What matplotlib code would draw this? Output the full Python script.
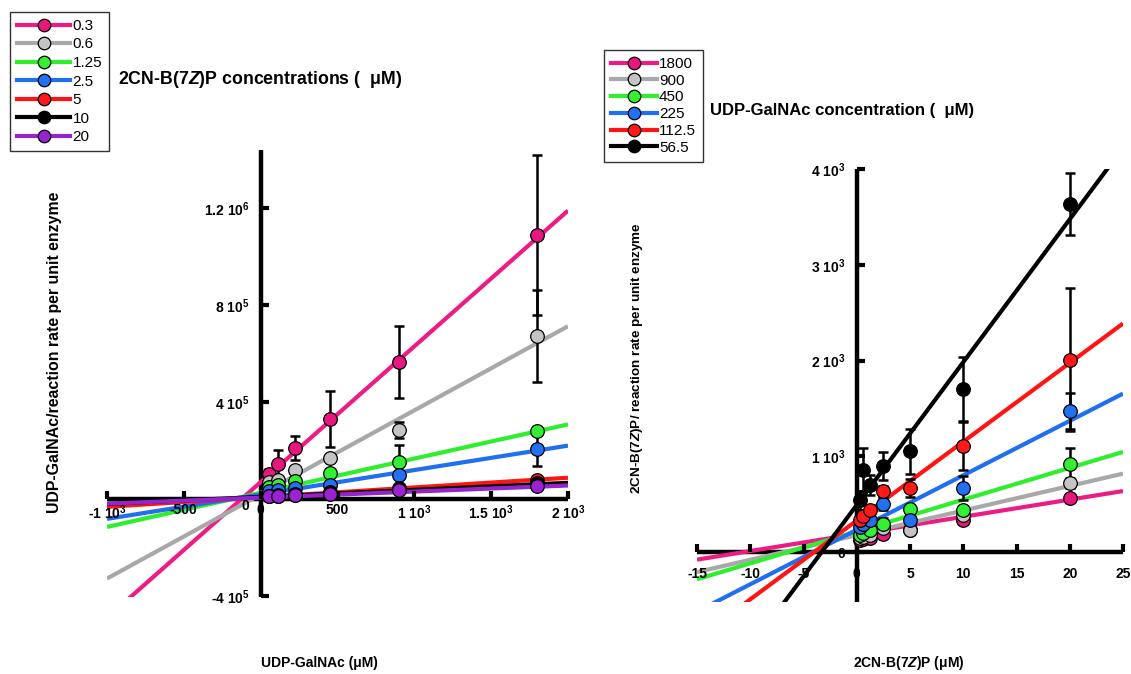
import matplotlib
matplotlib.use("Agg")
import numpy as np
import matplotlib.pyplot as plt
from matplotlib.lines import Line2D

plt.rcParams['font.family'] = ['Liberation Sans', 'DejaVu Sans']
plt.rcParams['mathtext.fontset'] = 'custom'
plt.rcParams['mathtext.rm'] = 'Liberation Sans:bold'
plt.rcParams['mathtext.bf'] = 'Liberation Sans:bold'
plt.rcParams['mathtext.it'] = 'Liberation Sans:italic:bold'
plt.rcParams['mathtext.default'] = 'rm'
plt.rcParams['axes.axisbelow'] = False

# ---------------- data: UDP-GalNAc varied (left panel) ----------------
udp_conc = [56.5, 112.5, 225, 450, 900, 1800]
inhib_labels = ['0.3', '0.6', '1.25', '2.5', '5', '10', '20']

left_y = [
    [1.04e5, 1.46e5, 2.12e5, 3.30e5, 5.66e5, 1.089e6],   # 0.3
    [0.70e5, 0.78e5, 1.18e5, 1.70e5, 2.85e5, 6.72e5],    # 0.6
    [0.50e5, 0.58e5, 0.74e5, 1.06e5, 1.54e5, 2.80e5],    # 1.25
    [0.32e5, 0.38e5, 0.47e5, 0.56e5, 0.99e5, 2.05e5],    # 2.5
    [0.14e5, 0.15e5, 0.19e5, 0.28e5, 0.44e5, 0.80e5],    # 5
    [0.11e5, 0.12e5, 0.16e5, 0.24e5, 0.40e5, 0.68e5],    # 10
    [0.12e5, 0.12e5, 0.15e5, 0.20e5, 0.37e5, 0.55e5],    # 20
]
left_err = [
    [0.2e5, 0.55e5, 0.5e5, 1.17e5, 1.5e5, 3.3e5],
    [0.1e5, 0.1e5, 0.1e5, 0.1e5, 0.34e5, 1.9e5],
    [0.05e5, 0.05e5, 0.05e5, 0.05e5, 0.7e5, 0.15e5],
    [0.05e5, 0.05e5, 0.05e5, 0.05e5, 0.1e5, 0.7e5],
    [0.02e5, 0.02e5, 0.02e5, 0.03e5, 0.05e5, 0.08e5],
    [0.02e5, 0.02e5, 0.02e5, 0.03e5, 0.05e5, 0.08e5],
    [0.02e5, 0.02e5, 0.02e5, 0.03e5, 0.05e5, 0.08e5],
]
# linear fits (slope, intercept)
left_slope = [560, 347, 141, 100.7, 40, 29, 25]
left_icpt = [7.0e4, 1.9e4, 2.6e4, 1.9e4, 0.8e4, 0.9e4, 0.6e4]

# ---------------- data: 2CN-B(7Z)P varied (right panel) ----------------
inhib_conc = [0.3, 0.6, 1.25, 2.5, 5, 10, 20]
udp_labels = ['1800', '900', '450', '225', '112.5', '56.5']

right_y = [
    [130, 140, 150, 190, 225, 331, 568],        # 1800
    [150, 160, 175, 250, 233, 383, 721],        # 900
    [180, 200, 230, 292, 446, 435, 923],        # 450
    [260, 290, 330, 500, 338, 669, 1470],       # 225
    [330, 380, 435, 634, 669, 1104, 2010],      # 112.5
    [540, 860, 700, 898, 1052, 1703, 3633],     # 56.5
]
right_err = [
    [20, 20, 20, 20, 30, 40, 40],
    [20, 20, 20, 30, 30, 40, 50],
    [20, 20, 30, 60, 40, 40, 165],
    [30, 30, 40, 60, 60, 130, 190],
    [40, 60, 60, 60, 90, 250, 745],
    [100, 225, 100, 150, 235, 335, 325],
]
right_slope = [17.9, 25.7, 33.25, 56.9, 82.3, 149.2]
right_icpt = [189, 176, 214, 232, 329, 491]

# ---------------- styling ----------------
left_line_colors = ['#EC1C84', '#A8A8A8', '#2EEE2E', '#1F6FEF', '#FF1414', '#000000', '#9424CC']
left_face_colors = ['#E8177F', '#C4C4C4', '#33F033', '#2370F0', '#FF1A1A', '#000000', '#9A22D0']
right_line_colors = ['#EC1C84', '#A8A8A8', '#2EEE2E', '#1F6FEF', '#FF1414', '#000000']
right_face_colors = ['#E8177F', '#C4C4C4', '#33F033', '#2370F0', '#FF1A1A', '#000000']

W, H = 1131, 674
fig = plt.figure(figsize=(W / 100, H / 100), dpi=100)


def px_axes(x0, y0, x1, y1):
    return fig.add_axes([x0 / W, 1 - y1 / H, (x1 - x0) / W, (y1 - y0) / H])


def style_axes(ax, xpad, ypad):
    for s in ('top', 'right'):
        ax.spines[s].set_visible(False)
    ax.spines['left'].set_position(('data', 0))
    ax.spines['bottom'].set_position(('data', 0))
    for s in ('left', 'bottom'):
        ax.spines[s].set_linewidth(3.2)
        ax.spines[s].set_zorder(1)
        ax.spines[s].set_capstyle('butt')
    ax.tick_params(axis='both', direction='in', length=6, width=3,
                   labelsize=10)
    ax.tick_params(axis='x', pad=xpad)
    ax.tick_params(axis='y', pad=ypad)
    for lab in ax.get_xticklabels() + ax.get_yticklabels():
        lab.set_fontweight('bold')
    ax.patch.set_visible(False)


def draw_series(ax, x, ys, errs, slopes, icpts, lcols, fcols, xr):
    xr = np.array(xr, dtype=float)
    for i, (m, b) in enumerate(zip(slopes, icpts)):
        ax.plot(xr, m * xr + b, color=lcols[i], lw=3, zorder=2,
                solid_capstyle='butt')
    for y, e in zip(ys, errs):
        ax.errorbar(x, y, yerr=e, fmt='none', ecolor='black',
                    elinewidth=1.8, capsize=3.5, capthick=1.8, zorder=3)
    for i, y in enumerate(ys):
        ax.plot(x, y, 'o', ms=9.8, mfc=fcols[i], mec='black', mew=0.9,
                zorder=4 + 0.01 * i)


# ---------------- left panel ----------------
axL = px_axes(107, 150, 568, 597)
axL.set_xlim(-1000, 2000)
axL.set_ylim(-4.04e5, 1.44e6)
draw_series(axL, udp_conc, left_y, left_err, left_slope, left_icpt,
            left_line_colors, left_face_colors, [-1000, 2000])
axL.set_xticks([-1000, -500, 0, 500, 1000, 1500, 2000],
               [r'-1 $10^{3}$', '-500', '0', '500', r'1 $10^{3}$',
                r'1.5 $10^{3}$', r'2 $10^{3}$'])
axL.set_yticks([-4e5, 0, 4e5, 8e5, 1.2e6],
               [r'-4 $10^{5}$', '0', r'4 $10^{5}$', r'8 $10^{5}$',
                r'1.2 $10^{6}$'])
style_axes(axL, xpad=3, ypad=8)
axL.get_yticklabels()[1].set_va('top')

# ---------------- right panel ----------------
axR = px_axes(697, 169, 1123, 602)
axR.set_xlim(-15, 25)
axR.set_ylim(-522, 4000)
draw_series(axR, inhib_conc, right_y, right_err, right_slope, right_icpt,
            right_line_colors, right_face_colors, [-15, 25])
axR.set_xticks([-15, -10, -5, 0, 5, 10, 15, 20, 25],
               ['-15', '-10', '-5', '0', '5', '10', '15', '20', '25'])
axR.set_yticks([0, 1000, 2000, 3000, 4000],
               ['0', r'1 $10^{3}$', r'2 $10^{3}$', r'3 $10^{3}$',
                r'4 $10^{3}$'])
style_axes(axR, xpad=11, ypad=8)

# ---------------- axis titles ----------------
fig.text(319 / W, 1 - 663 / H, 'UDP-GalNAc (μM)', ha='center', va='center',
         fontsize=10, fontweight='bold')
fig.text(55 / W, 1 - 352 / H, 'UDP-GalNAc/reaction rate per unit enzyme',
         ha='center', va='center', rotation=90, fontsize=11.4, fontweight='bold')
fig.text(909 / W, 1 - 663 / H, r'2CN-B(7$\mathit{Z}$)P (μM)', ha='center',
         va='center', fontsize=10, fontweight='bold')
fig.text(637 / W, 1 - 358 / H, r'2CN-B(7$\mathit{Z}$)P/ reaction rate per unit enzyme',
         ha='center', va='center', rotation=90, fontsize=9.7, fontweight='bold')

# ---------------- legends ----------------
def make_legend(labels, lcols, fcols, x0, y0, spacing, hlen):
    handles = [Line2D([], [], color=lc, lw=3, marker='o', ms=9, mfc=fc,
                      mec='black', mew=0.9) for lc, fc in zip(lcols, fcols)]
    leg = fig.legend(handles, labels, loc='upper left',
                     bbox_to_anchor=(x0 / W, 1 - y0 / H),
                     bbox_transform=fig.transFigure, borderaxespad=0,
                     frameon=True, fancybox=False, fontsize=11,
                     handlelength=hlen, handletextpad=0.15,
                     labelspacing=spacing, borderpad=0.45)
    leg.get_frame().set_edgecolor('black')
    leg.get_frame().set_linewidth(1.0)
    return leg


make_legend(inhib_labels, left_line_colors, left_face_colors, 10, 12, 0.3, 3.5)
fig.text(118 / W, 1 - 80 / H, r'2CN-B(7$\mathit{Z}$)P concentrations (  μM)',
         ha='left', va='center', fontsize=12.8, fontweight='bold')

make_legend(udp_labels, right_line_colors, right_face_colors, 604, 50, 0.18, 3.0)
fig.text(710 / W, 1 - 111 / H, 'UDP-GalNAc concentration (  μM)',
         ha='left', va='center', fontsize=12, fontweight='bold')

fig.savefig('out.png', dpi=100)
